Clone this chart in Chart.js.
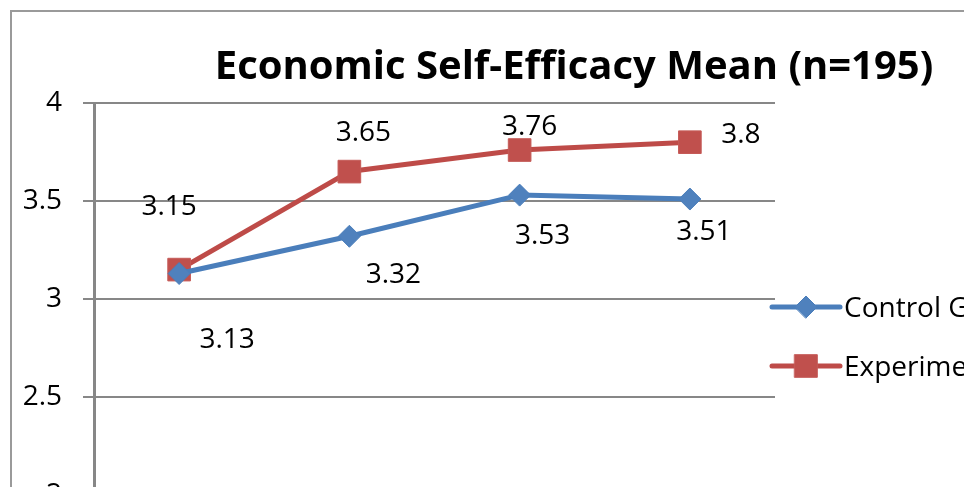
<!DOCTYPE html>
<html>
<head>
<meta charset="utf-8">
<script src="https://cdn.jsdelivr.net/npm/chart.js@4"></script>
<style>
html, body { margin: 0; padding: 0; overflow: hidden; background: #fff; width: 964px; height: 487px; }
#frame { position: absolute; left: 10px; top: 10px; border: 2px solid #9a9a9a; width: 1124px; height: 600px; }
canvas { display: block; }
</style>
</head>
<body>
<div id="frame"><canvas id="chart" width="1124" height="600"></canvas></div>
<script>
// data
var categories = ["1", "2", "3", "4"];
var controlGroup = [3.13, 3.32, 3.53, 3.51];
var experimentalGroup = [3.15, 3.65, 3.76, 3.8];
var seriesNames = ["Control Group", "Experimental Group"];
var yMin = 2, yMax = 4, yStep = 0.5;

// value labels, drawn next to each point (offsets copied from the excel layout)
var valueLabels = {
  id: 'valueLabels',
  afterDatasetsDraw: function(chart, args, opts) {
    var ctx = chart.ctx;
    ctx.save();
    ctx.font = opts.font;
    ctx.fillStyle = '#000';
    ctx.textAlign = 'center';
    ctx.textBaseline = 'alphabetic';
    chart.data.datasets.forEach(function(ds, i) {
      chart.getDatasetMeta(i).data.forEach(function(pt, j) {
        var off = opts.offsets[i][j];
        ctx.fillText(String(ds.data[j]), pt.x + off[0], pt.y + off[1] + opts.baselineShift);
      });
    });
    ctx.restore();
  }
};

// excel style legend: line with marker, on the right of the plot
var sideLegend = {
  id: 'sideLegend',
  afterDraw: function(chart, args, opts) {
    var ctx = chart.ctx, area = chart.chartArea;
    chart.data.datasets.forEach(function(ds, i) {
      var x0 = area.right + opts.left;
      var y = area.top + opts.top + i * opts.spacing;
      ctx.save();
      ctx.strokeStyle = ds.borderColor;
      ctx.lineWidth = ds.borderWidth;
      ctx.lineCap = 'round';
      ctx.beginPath();
      ctx.moveTo(x0, y);
      ctx.lineTo(x0 + opts.lineLength, y);
      ctx.stroke();
      ctx.fillStyle = ds.pointBackgroundColor;
      ctx.strokeStyle = ds.pointBorderColor;
      ctx.lineWidth = ds.pointBorderWidth;
      Chart.helpers.drawPoint(ctx, {
        pointStyle: ds.pointStyle, radius: ds.pointRadius,
        borderWidth: ds.pointBorderWidth, rotation: 0
      }, x0 + opts.lineLength / 2, y);
      ctx.font = opts.font;
      ctx.fillStyle = '#000';
      ctx.textAlign = 'left';
      ctx.textBaseline = 'alphabetic';
      ctx.fillText(ds.label, x0 + opts.lineLength + opts.gap, y + opts.baselineShift);
      ctx.restore();
    });
  }
};

var ctx = document.getElementById('chart').getContext('2d');
var myChart = new Chart(ctx, {
  type: 'line',
  data: {
    labels: categories,
    datasets: [{
      label: seriesNames[0],
      data: controlGroup,
      borderColor: '#4A7EBB',
      borderWidth: 5,
      borderCapStyle: 'round',
      borderJoinStyle: 'round',
      pointStyle: 'rectRot',
      pointRadius: 11,
      pointHoverRadius: 11,
      pointBackgroundColor: '#4F81BD',
      pointBorderColor: '#4A7EBB',
      pointBorderWidth: 1,
      tension: 0
    }, {
      label: seriesNames[1],
      data: experimentalGroup,
      borderColor: '#BE4B48',
      borderWidth: 5,
      borderCapStyle: 'round',
      borderJoinStyle: 'round',
      pointStyle: 'rect',
      pointRadius: 16,
      pointHoverRadius: 16,
      pointBackgroundColor: '#C0504D',
      pointBorderColor: '#C55A57',
      pointBorderWidth: 1,
      tension: 0
    }]
  },
  options: {
    responsive: false,
    animation: false,
    events: [],
    layout: { padding: { left: 0, right: 0, top: 0, bottom: 117 } },
    scales: {
      x: { display: false, offset: true },
      y: {
        min: yMin,
        max: yMax,
        afterFit: function(scale) { scale.width = 82; },
        ticks: {
          stepSize: yStep,
          color: '#000',
          padding: 21,
          font: { family: 'Open Sans', size: 28 },
          callback: function(v) { return String(v); }
        },
        grid: { color: '#878787', lineWidth: 2, tickLength: 11 },
        border: { color: '#878787', width: 3 }
      },
      // empty right axis: keeps room for the legend without moving the title
      side: {
        axis: 'y',
        position: 'right',
        afterFit: function(scale) { scale.width = 361; },
        ticks: { display: false },
        grid: { display: false },
        border: { display: false }
      }
    },
    plugins: {
      legend: { display: false },
      tooltip: { enabled: false },
      title: {
        display: true,
        text: 'Economic Self-Efficacy Mean (n=195)',
        color: '#000',
        font: { family: 'Open Sans', size: 40, weight: 'bold', lineHeight: 1.2 },
        padding: { top: 32, bottom: 11 }
      },
      valueLabels: {
        font: '28px "Open Sans"',
        baselineShift: 10,
        offsets: [
          [[48, 64], [44, 37], [23, 39], [14, 31]],
          [[-10, -65], [14, -41], [10, -25], [51, -9]]
        ]
      },
      sideLegend: {
        font: '28px "Open Sans"',
        left: -3, top: 204, spacing: 59,
        lineLength: 68, gap: 4, baselineShift: 10
      }
    }
  },
  plugins: [valueLabels, sideLegend]
});
</script>
</body>
</html>
